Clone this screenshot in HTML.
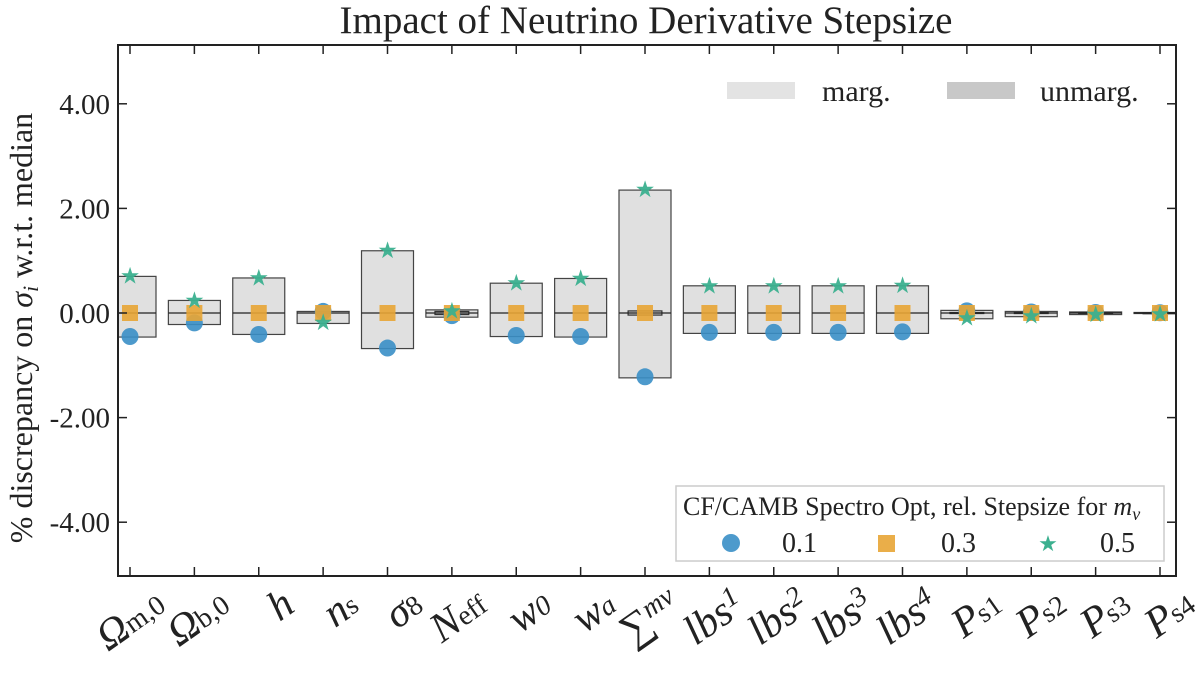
<!DOCTYPE html>
<html><head><meta charset="utf-8"><style>
body{margin:0;background:#fff;}
svg{display:block;font-family:"Liberation Serif","DejaVu Serif",serif;}
</style></head><body>
<svg id="chart" width="1200" height="684" viewBox="0 0 1200 684">
<text x="646" y="33" font-size="39" text-anchor="middle" fill="#222">Impact of Neutrino Derivative Stepsize</text>
<text transform="translate(32,328) rotate(-90)" font-size="32" text-anchor="middle" fill="#222">% discrepancy on <tspan font-style="italic">σ</tspan><tspan font-style="italic" font-size="22" dy="6">i</tspan><tspan dy="-6"> w.r.t. median</tspan></text>
<g id="marks"></g>
<rect x="118" y="45" width="1058" height="531" fill="none" stroke="#222" stroke-width="2"/>
<g id="axes"></g>
<g>
<rect x="727" y="82" width="68" height="17" fill="#e3e3e3"/>
<text x="822" y="101" font-size="30" fill="#222">marg.</text>
<rect x="947" y="82" width="68" height="17" fill="#c8c8c8"/>
<text x="1040" y="101" font-size="30" fill="#222">unmarg.</text>
</g>
<g>
<rect x="676" y="486" width="488" height="75" fill="#fff" fill-opacity="0.85" stroke="#ccc" stroke-width="1.5"/>
<text x="683" y="515" font-size="26" fill="#222">CF/CAMB Spectro Opt, rel. Stepsize for <tspan font-style="italic">m</tspan><tspan font-style="italic" font-size="18" dy="5">ν</tspan></text>
<circle cx="731" cy="543" r="9" fill="#3a8fc7" fill-opacity="0.9"/>
<text x="782" y="552" font-size="28" fill="#222">0.1</text>
<rect x="878" y="535" width="17" height="17" fill="#e8a535" fill-opacity="0.9"/>
<text x="941" y="552" font-size="28" fill="#222">0.3</text>
<text x="1048" y="551" font-size="22" fill="#3bb08f" text-anchor="middle">★</text>
<text x="1100" y="552" font-size="28" fill="#222">0.5</text>
</g>
</svg>
<script>
const categories=["Ωm,0","Ωb,0","h","ns","σ8","Neff","w0","wa","Σmν","lbs1","lbs2","lbs3","lbs4","Ps1","Ps2","Ps3","Ps4"];
const labelMain=["Ω","Ω","h","n","σ","N","w","w","∑","lbs","lbs","lbs","lbs","P","P","P","P"];
const labelSub=["m,0","b,0","","s","8","eff","0","a","mν","1","2","3","4","s1","s2","s3","s4"];
const margTop=[0.70,0.24,0.67,0.03,1.19,0.06,0.57,0.66,2.35,0.52,0.52,0.52,0.52,0.05,0.03,0.02,0.01];
const margBot=[-0.46,-0.22,-0.41,-0.20,-0.68,-0.08,-0.45,-0.46,-1.24,-0.39,-0.39,-0.39,-0.39,-0.11,-0.07,-0.03,-0.01];
const unmargTop=[0,0,0,0,0,0.03,0,0,0.04,0,0,0,0,0.01,0.01,0.01,0.005];
const unmargBot=[0,0,0,0,0,-0.03,0,0,-0.04,0,0,0,0,-0.01,-0.01,-0.01,-0.005];
const s01=[-0.45,-0.19,-0.41,0.03,-0.67,-0.05,-0.43,-0.45,-1.22,-0.37,-0.37,-0.37,-0.36,0.04,0.02,0.01,0.005];
const s03=[0,0,0,0,0,0,0,0,0,0,0,0,0,0,0,0,0];
const s05=[0.72,0.25,0.68,-0.17,1.20,0.05,0.58,0.67,2.37,0.53,0.53,0.53,0.54,-0.09,-0.05,-0.02,-0.01];
const yTicks=[-4,-2,0,2,4];
const yTickLabels=["-4.00","-2.00","0.00","2.00","4.00"];

const NS="http://www.w3.org/2000/svg";
const X0=118,X1=1176,Y0=45,Y1=576;
const xs=i=>130+i*(1160-130)/(categories.length-1);
const ys=v=>313-v*52.3;
function mk(tag,attrs,parent){const e=document.createElementNS(NS,tag);for(const k in attrs)e.setAttribute(k,attrs[k]);parent.appendChild(e);return e;}
const marks=document.getElementById('marks');
const axes=document.getElementById('axes');
const clip=mk('clipPath',{id:'pc'},marks);mk('rect',{x:X0,y:Y0,width:X1-X0,height:Y1-Y0},clip);
const g=mk('g',{'clip-path':'url(#pc)'},marks);
const hw=26;
categories.forEach((c,i)=>{
  const x=xs(i);
  const r=mk('rect',{x:x-hw,y:ys(margTop[i]),width:2*hw,height:Math.max(1,ys(margBot[i])-ys(margTop[i])),fill:'#e0e0e0',stroke:'#444','stroke-width':1.2},g);
  
  
  if(unmargTop[i]!==0||unmargBot[i]!==0){
    const u=mk('rect',{x:x-hw*0.65,y:ys(unmargTop[i]),width:1.3*hw,height:Math.max(1,ys(unmargBot[i])-ys(unmargTop[i])),fill:'#c8c8c8',stroke:'#333','stroke-width':1.2},g);
    
    
  }
  const m=mk('line',{x1:x-hw,x2:x+hw,y1:ys(0),y2:ys(0),stroke:'#222','stroke-width':1.2},g);
  
  
  const p1=mk('circle',{cx:x,cy:ys(s01[i]),r:8.5,fill:'#3a8fc7','fill-opacity':0.9},g);
  
  
  const p3=mk('rect',{x:x-8,y:ys(s03[i])-8,width:16,height:16,fill:'#e8a535','fill-opacity':0.9},g);
  
  
  const p5=mk('text',{x:x,y:ys(s05[i])+8,'font-size':23,fill:'#3bb08f','fill-opacity':0.95,'text-anchor':'middle'},g);
  p5.textContent='★';
  
  
  mk('line',{x1:x,x2:x,y1:Y1,y2:Y1-9,stroke:'#222','stroke-width':1.5},axes);
  mk('line',{x1:x,x2:x,y1:Y0,y2:Y0+9,stroke:'#222','stroke-width':1.5},axes);
  const t=mk('text',{transform:`translate(${x+38},${610}) rotate(-35)`,'text-anchor':'end','font-size':42,'font-style':'italic',fill:'#222'},axes);
  
  
  const a=document.createElementNS(NS,'tspan');a.textContent=labelMain[i];t.appendChild(a);
  if(labelSub[i]){const b=document.createElementNS(NS,'tspan');b.setAttribute('font-size','28');
    const up=(i>=8&&i<=12);
    b.setAttribute('dy',up?'-12':'-1');
    if(!(i>=8&&i<=12)&&i!==6&&i!==7)b.setAttribute('font-style','normal');
    b.textContent=labelSub[i];t.appendChild(b);}
});
yTicks.forEach((v,i)=>{
  const y=ys(v);
  mk('line',{x1:X0,x2:X0+9,y1:y,y2:y,stroke:'#222','stroke-width':1.5},axes);
  mk('line',{x1:X1,x2:X1-9,y1:y,y2:y,stroke:'#222','stroke-width':1.5},axes);
  const t=mk('text',{x:110,y:y+10,'text-anchor':'end','font-size':29,fill:'#222'},axes);
  t.textContent=yTickLabels[i];
  
  
});
</script>
</body></html>
